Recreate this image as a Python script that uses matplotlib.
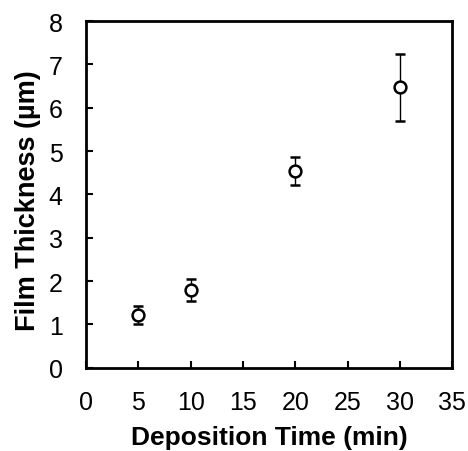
import matplotlib
matplotlib.use("Agg")
import matplotlib.pyplot as plt

# Film thickness vs deposition time
time_min = [5, 10, 20, 30]
thickness_um = [1.21, 1.80, 4.54, 6.47]
thickness_err = [0.21, 0.25, 0.32, 0.77]

x_ticks = [0, 5, 10, 15, 20, 25, 30, 35]
y_ticks = [0, 1, 2, 3, 4, 5, 6, 7, 8]

plt.rcParams["font.family"] = ["Liberation Sans", "DejaVu Sans"]

fig = plt.figure(figsize=(4.68, 4.52), dpi=100)
ax = fig.add_axes([0.184, 0.184, 0.782, 0.767])

ax.errorbar(time_min, thickness_um, yerr=thickness_err, fmt="o",
            mfc="white", mec="black", mew=1.8, ms=8.5,
            ecolor="black", elinewidth=1.0, capsize=3.5, capthick=1.0)

ax.set_xlim(0, 35)
ax.set_ylim(0, 8)
ax.set_xticks(x_ticks)
ax.set_yticks(y_ticks)
ax.tick_params(direction="in", length=5, width=1.5, labelsize=18)
ax.tick_params(axis="y", pad=17)
ax.tick_params(axis="x", pad=16)

for s in ax.spines.values():
    s.set_linewidth(2)

ax.set_xlabel("Deposition Time (min)", fontsize=19, fontweight="bold", labelpad=8)
ax.set_ylabel("Film Thickness (µm)", fontsize=19.5, fontweight="bold")
ax.yaxis.set_label_coords(-0.122, 0.486)

fig.savefig("out.png", dpi=100)
